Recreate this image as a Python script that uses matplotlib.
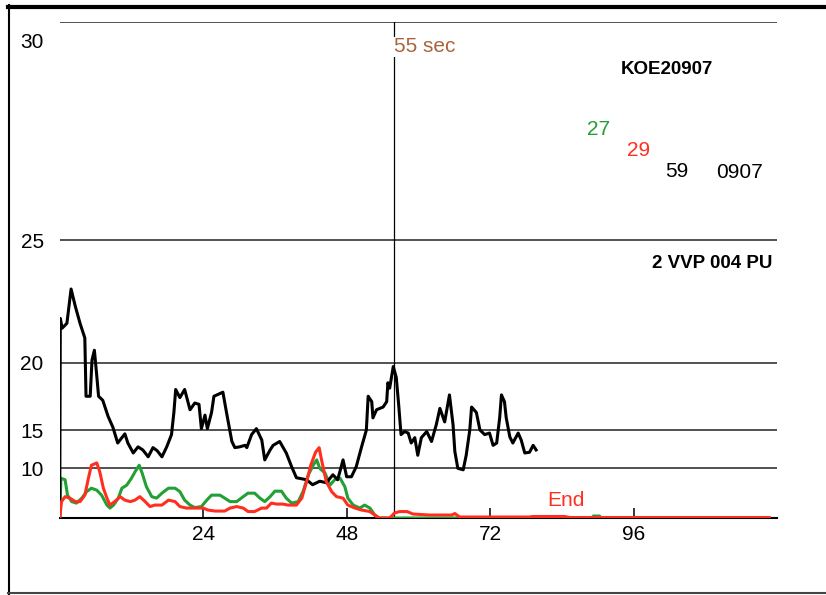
"""Trend plot: KOE20907 / 2 VVP 004 PU"""

import numpy as np
import matplotlib
matplotlib.use('Agg')
import matplotlib.pyplot as plt
from matplotlib.lines import Line2D
from matplotlib.transforms import blended_transform_factory

plt.rcParams['font.family'] = ['Liberation Sans', 'DejaVu Sans']

# --- data ---
black_t = [0, 0.1, 0.4, 1.2, 1.9, 2.6, 3.4, 4.2, 4.4, 5.1,
           5.4, 5.8, 6.2, 6.5, 7.2, 8.1, 8.9, 9.7, 10.9, 11.4,
           12.3, 13.1, 13.9, 14.8, 15.6, 16.3, 17.1, 17.9, 18.7, 19.1,
           19.4, 20.1, 20.9, 21.8, 22.6, 23.3, 23.7, 24.3, 24.7, 25.4,
           25.8, 26.8, 27.3, 27.9, 28.8, 29.3, 30.1, 31.0, 31.3, 32.1,
           32.9, 33.8, 34.3, 35.2, 35.7, 36.8, 37.9, 38.8, 39.6, 41.3,
           42.3, 43.5, 44.6, 45.7, 46.5, 47.4, 48.0, 48.8, 49.6, 50.5,
           51.3, 51.6, 52.2, 52.4, 53.0, 54.1, 54.7, 54.9, 55.2, 55.8,
           56.3, 56.7, 57.1, 57.7, 58.3, 58.8, 59.4, 59.9, 60.5, 61.4,
           62.2, 63.0, 63.6, 64.4, 65.2, 65.8, 66.1, 66.6, 67.5, 68.0,
           68.6, 68.9, 69.7, 70.3, 71.1, 71.9, 72.5, 73.1, 73.6, 73.9,
           74.4, 74.7, 75.3, 75.8, 76.7, 77.2, 77.8, 78.6, 79.2, 79.7]
black_v = [0, 21.8, 21.4, 21.6, 23.0, 22.3, 21.6, 21.0, 17.5, 17.5,
           20.1, 20.5, 19.0, 17.5, 17.2, 16.0, 15.2, 13.3, 14.5, 13.3,
           12.0, 12.8, 12.4, 11.5, 12.7, 12.3, 11.5, 12.8, 14.4, 16.3,
           18.0, 17.4, 18.0, 16.5, 17.0, 16.9, 15.1, 16.1, 15.1, 16.3,
           17.5, 17.7, 17.8, 16.3, 13.5, 12.7, 12.8, 13.0, 12.7, 14.4,
           15.1, 13.7, 11.1, 12.4, 13.0, 13.5, 12.0, 10.2, 8.1, 7.7,
           6.7, 7.4, 7.1, 8.7, 7.7, 11.1, 8.3, 8.3, 10.2, 12.8,
           15.0, 17.5, 17.1, 15.9, 16.5, 16.7, 17.1, 18.5, 18.1, 19.7,
           18.9, 16.9, 14.4, 14.8, 14.6, 13.3, 14.0, 11.7, 14.0, 14.8,
           13.5, 15.4, 16.6, 15.6, 17.6, 15.4, 12.2, 10.0, 9.7, 11.7,
           15.0, 16.7, 16.3, 15.0, 14.4, 14.6, 13.0, 13.3, 15.9, 17.6,
           17.1, 15.9, 14.1, 13.3, 14.6, 13.7, 12.0, 12.1, 13.0, 12.4]

green_t = [0, 0.2, 0.9, 1.3, 2.0, 2.8, 3.7, 4.5, 5.3, 6.2,
           7.0, 7.9, 8.4, 9.0, 9.8, 10.4, 11.2, 12.0, 12.6, 13.3,
           13.8, 14.5, 15.4, 16.2, 17.1, 18.2, 19.3, 20.1, 20.9, 21.8,
           22.6, 23.7, 24.6, 25.4, 26.8, 27.6, 28.5, 29.6, 30.7, 31.5,
           32.6, 33.5, 34.3, 35.2, 36.0, 37.1, 37.9, 38.8, 39.9, 40.7,
           41.6, 42.4, 43.0, 43.5, 44.4, 45.2, 46.0, 46.9, 47.7, 48.2,
           49.1, 50.2, 51.0, 51.9, 52.7, 53.3, 89.0, 89.3, 90.3, 90.6,
           118.7]
green_v = [0, 8.0, 7.7, 4.6, 3.3, 3.0, 4.0, 5.3, 6.0, 5.6,
           4.6, 2.6, 2.0, 2.6, 4.0, 6.0, 6.6, 8.0, 9.3, 10.4,
           9.0, 6.3, 4.3, 4.0, 5.0, 6.0, 6.0, 5.3, 3.6, 2.6,
           2.1, 2.3, 3.6, 4.6, 4.6, 4.0, 3.3, 3.3, 4.3, 5.0,
           5.0, 4.0, 3.3, 4.3, 5.4, 5.4, 4.0, 3.0, 3.3, 5.3,
           8.7, 10.4, 11.1, 10.0, 9.0, 6.6, 7.7, 8.0, 6.3, 4.0,
           2.6, 2.0, 2.6, 2.0, 0.6, 0, 0, 0.4, 0.4, 0,
           0]

red_t = [0, 0.3, 0.9, 1.7, 2.6, 3.4, 4.2, 4.8, 5.3, 6.2,
         6.7, 7.3, 7.9, 8.4, 9.2, 10.1, 10.9, 11.8, 12.6, 13.4,
         14.3, 15.1, 15.9, 17.1, 18.2, 19.3, 20.1, 21.2, 22.6, 24.0,
         24.8, 26.0, 27.6, 28.5, 29.6, 30.7, 31.5, 32.6, 33.8, 34.6,
         35.4, 36.3, 37.3, 38.2, 39.6, 40.5, 41.3, 42.0, 42.8, 43.4,
         43.8, 44.6, 45.5, 46.3, 47.4, 48.2, 49.4, 50.5, 51.9, 52.7,
         53.5, 55.2, 56.0, 56.9, 58.1, 59.1, 61.9, 65.6, 66.1, 66.9,
         78.6, 79.1, 84.5, 85.3, 118.7]
red_v = [0, 3.3, 4.3, 4.0, 3.3, 3.3, 4.6, 8.0, 10.4, 10.7,
         9.3, 6.0, 4.0, 2.6, 3.3, 4.3, 3.6, 3.3, 3.6, 4.3,
         3.3, 2.3, 2.6, 2.6, 3.6, 3.3, 2.3, 2.0, 2.0, 2.0,
         1.6, 1.4, 1.4, 2.0, 2.3, 2.0, 1.3, 1.3, 2.0, 2.0,
         3.0, 2.8, 2.8, 2.6, 2.6, 4.0, 7.3, 10.4, 12.1, 12.7,
         11.1, 7.3, 5.3, 4.3, 4.0, 2.6, 2.0, 1.6, 1.3, 0.6,
         0, 0, 1.0, 1.3, 1.3, 0.8, 0.6, 0.6, 0.9, 0.2,
         0.2, 0.3, 0.3, 0.1, 0.1]

x_ticks = [24, 48, 72, 96]
y_ticks = [10, 15, 20, 25]
cursor_t = 55.9
cursor_label = '55 sec'
tag_name = 'KOE20907'
tag_desc = '2 VVP 004 PU'
legend_vals = [('27', '#22a034'), ('29', '#ff2f1f'), ('59', 'black'), ('0907', 'black')]

# the trend's y axis is stretched non-linearly: value -> height above the axis
y_nodes = [0, 10, 15, 20, 25, 30]
y_height = [0, 49.7, 88, 155.5, 278, 496]


def fwd(v):
    return np.interp(v, y_nodes, y_height)


def inv(h):
    return np.interp(h, y_height, y_nodes)


fig = plt.figure(figsize=(8.26, 5.95), dpi=100)
ax = fig.add_axes([0.0723, 0.1294, 0.8684, 0.8336])
ax.set_yscale('function', functions=(fwd, inv))
ax.set_xlim(0, 120)
ax.set_ylim(0, 30)

for v in y_ticks + [30]:
    ax.axhline(v, color='#333333', lw=1.2, zorder=1)

ax.axvline(cursor_t, color='black', lw=0.9, zorder=1)

ax.plot(green_t, green_v, color='#22a034', lw=2.2, zorder=3)
ax.plot(black_t, black_v, color='black', lw=2.2, zorder=4)
ax.plot(red_t, red_v, color='#ff2f1f', lw=2.2, zorder=5)

for s in ['left', 'right', 'top']:
    ax.spines[s].set_visible(False)
ax.spines['bottom'].set_linewidth(1.5)

ax.set_xticks(x_ticks)
ax.set_xticklabels([str(t) for t in x_ticks])
ax.tick_params(axis='x', direction='in', length=7.5, width=1.1, pad=5,
               labelsize=15)
ax.set_yticks(y_ticks)
ax.set_yticklabels([str(t) for t in y_ticks])
ax.tick_params(axis='y', length=0, pad=11.5, labelsize=15)
ax.annotate('30', xy=(0, 30), xycoords=('axes fraction', 'data'),
            xytext=(-11.5, -15), textcoords='offset points',
            ha='right', va='center', fontsize=15)

# labels inside the plot
trans = blended_transform_factory(ax.transData, ax.transAxes)
ax.text(cursor_t, 0.95, cursor_label, transform=trans, color='#a8643c',
        fontsize=15, ha='left', va='center', zorder=6,
        bbox=dict(facecolor='white', edgecolor='none', pad=0.5))
ax.text(0.8466, 0.9046, tag_name, transform=ax.transAxes, fontsize=13.5,
        fontweight='bold', ha='center', va='center')
ax.text(0.9932, 0.5141, tag_desc, transform=ax.transAxes, fontsize=13.5,
        fontweight='bold', ha='right', va='center')
pos = [(0.7518, 0.7843), (0.8069, 0.7419), (0.8606, 0.6996), (0.947, 0.6956)]
for (txt, col), (px, py) in zip(legend_vals, pos):
    ax.text(px, py, txt, transform=ax.transAxes, color=col, fontsize=15,
            ha='center', va='center')
ax.text(81.5, 3.6, 'End', color='#ff2f1f', fontsize=15, ha='left',
        va='center')

# window frame
fig.add_artist(Line2D([8 / 826, 1], [1 - 7 / 595, 1 - 7 / 595],
                      transform=fig.transFigure, color='black', lw=3))
fig.add_artist(Line2D([9 / 826, 9 / 826], [1 - 5 / 595, 1 - 594 / 595],
                      transform=fig.transFigure, color='black', lw=1.5))
fig.add_artist(Line2D([8 / 826, 1], [1 - 593 / 595, 1 - 593 / 595],
                      transform=fig.transFigure, color='#444444', lw=1.5))

fig.savefig('out.png', dpi=100)
